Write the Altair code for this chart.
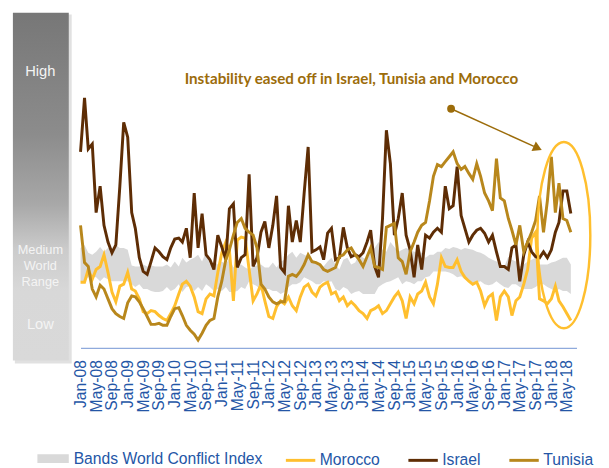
import altair as alt
import pandas as pd

# ---------------- data (arbitrary index units) ----------------
months = pd.date_range("2008-01-01", periods=126, freq="MS")
month_str = months.strftime("%Y-%m-%dT00:00:00").tolist()

morocco = [67, 67, 80, 70, 80, 83, 95, 77, 57, 47, 63, 65, 77, 60, 58, 50, 37, 35, 38, 37, 33, 30,
           28, 35, 43, 55, 65, 68, 63, 52, 37, 35, 50, 55, 53, 77, 97, 108, 100, 48, 110, 113, 112,
           80, 48, 55, 65, 48, 32, 30, 42, 48, 45, 52, 43, 38, 52, 62, 65, 57, 53, 62, 65,
           67, 55, 57, 48, 52, 43, 47, 43, 38, 35, 30, 38, 40, 43, 35, 38, 45, 52, 57, 48, 30,
           52, 45, 55, 58, 67, 52, 45, 65, 92, 83, 82, 82, 90, 78, 72, 68, 65, 67, 58, 43,
           52, 55, 28, 52, 58, 52, 33, 48, 52, 65, 80, 112, 118, 50, 48, 45, 50, 63, 48, 42, 35, 28]

israel = [200, 255, 203, 208, 138, 165, 125, 108, 97, 105, 165, 230, 215, 138, 122, 92, 78, 75, 88, 102, 98, 93,
          90, 102, 111, 112, 108, 122, 92, 158, 102, 137, 95, 90, 80, 115, 103, 90, 142, 147, 82, 92, 95,
          177, 83, 92, 118, 129, 102, 125, 155, 82, 77, 145, 108, 130, 108, 158, 205, 98, 100, 103, 90,
          117, 122, 90, 92, 123, 102, 93, 95, 93, 97, 108, 120, 83, 72, 132, 222, 188, 115, 132, 158, 115,
          100, 72, 105, 80, 115, 112, 118, 122, 118, 165, 142, 145, 185, 135, 122, 108, 115, 120, 122, 117,
          108, 115, 98, 83, 83, 80, 102, 105, 68, 95, 108, 98, 93, 92, 98, 92, 100, 118, 128, 160, 160, 137]

tunisia = [125, 87, 83, 60, 52, 64, 60, 50, 40, 35, 32, 30, 46, 53, 52, 47, 40, 32, 24, 24, 25, 23,
           23, 32, 40, 41, 33, 23, 18, 14, 8, 15, 23, 28, 30, 52, 68, 90, 100, 115, 128, 132, 122,
           118, 115, 102, 65, 60, 52, 47, 45, 47, 47, 73, 75, 73, 78, 85, 95, 88, 87, 85, 80,
           78, 80, 82, 93, 95, 100, 102, 95, 90, 83, 93, 102, 83, 82, 80, 123, 125, 127, 92, 88, 75,
           98, 108, 118, 125, 128, 150, 175, 187, 185, 190, 195, 200, 188, 182, 185, 178, 172, 188, 175, 158,
           150, 140, 193, 153, 150, 132, 120, 105, 125, 98, 108, 118, 130, 155, 118, 150, 195, 138, 168, 132, 130, 118]

band_low = [68, 68, 72, 73, 72, 68, 72, 70, 68, 68, 68, 68, 68, 65, 62, 65, 60, 60, 58, 57, 57, 58,
            62, 58, 60, 65, 57, 62, 63, 58, 62, 58, 65, 62, 58, 60, 58, 62, 57, 57, 58, 62, 60,
            68, 65, 63, 58, 60, 60, 58, 58, 55, 57, 62, 65, 65, 67, 72, 70, 68, 65, 65, 68,
            67, 68, 60, 58, 62, 60, 55, 57, 58, 55, 55, 55, 55, 62, 65, 67, 68, 70, 72, 65, 68,
            67, 65, 68, 68, 72, 73, 78, 78, 78, 78, 77, 75, 72, 73, 70, 68, 67, 67, 68, 65,
            64, 65, 68, 65, 62, 61, 65, 65, 62, 60, 60, 60, 62, 65, 65, 62, 60, 58, 60, 58, 58, 55]

band_high = [102, 105, 97, 95, 98, 103, 98, 102, 102, 105, 102, 102, 100, 84, 83, 83, 85, 83, 84, 83, 83, 83,
             85, 82, 88, 83, 92, 87, 90, 92, 95, 88, 98, 85, 88, 85, 88, 85, 92, 82, 85, 85, 82,
             80, 83, 84, 85, 82, 82, 87, 82, 88, 90, 95, 98, 92, 97, 95, 93, 90, 88, 85, 83,
             88, 92, 85, 80, 90, 92, 85, 87, 95, 92, 90, 98, 102, 108, 100, 98, 108, 103, 98, 100, 102,
             100, 98, 98, 97, 92, 95, 95, 98, 98, 102, 101, 103, 102, 100, 102, 101, 100, 98, 97, 95,
             92, 90, 88, 85, 83, 93, 90, 88, 83, 85, 88, 90, 92, 85, 85, 85, 87, 88, 90, 92, 92, 85]

series_names = ["Morocco", "Israel", "Tunisia"]
series_colors = ["#FFBF2E", "#5E2D05", "#B8871C"]
band_label = "Bands World Conflict Index"
band_color = "#D9D9D9"
note_text = "Instability eased off in Israel, Tunisia and Morocco"
note_color = "#9C6C0A"
blue = "#2456A6"

# ---------------- tables ----------------
lines_df = pd.DataFrame({
    "date": month_str * 3,
    "series": [s for s in series_names for _ in month_str],
    "value": morocco + israel + tunisia,
})
band_df = pd.DataFrame({"date": month_str, "low": band_low, "high": band_high, "label": band_label})
one = pd.DataFrame({"k": [0]})

tick_values = [alt.DateTime(year=d.year, month=d.month, date=1) for d in months[::4]]

x_scale = alt.Scale(domain=[alt.DateTime(year=2008, month=1, date=1),
                            alt.DateTime(year=2018, month=7, date=15)], nice=False)
y_scale = alt.Scale(domain=[0, 310], nice=False, zero=False)

x_axis = alt.Axis(values=tick_values, format="%b-%y", labelAngle=-90, labelPadding=12,
                  labelOverlap=False, labelFlush=False, ticks=False, grid=False, title=None,
                  domainColor="#8FAADC", domainWidth=1.2,
                  labelFont="Liberation Sans", labelFontSize=16, labelColor=blue)

band = alt.Chart(band_df).mark_area(opacity=1, interpolate="linear").encode(
    x=alt.X("date:T", scale=x_scale, axis=x_axis),
    y=alt.Y("low:Q", scale=y_scale, axis=None),
    y2="high:Q",
    fill=alt.Fill("label:N", scale=alt.Scale(domain=[band_label], range=[band_color]),
                  legend=alt.Legend(title=None, orient="none", legendX=-44, legendY=407,
                                    symbolType="M-1,-0.28H1V0.28H-1Z", symbolSize=1024,
                                    symbolStrokeWidth=0, labelOffset=5, labelLimit=400,
                                    labelFont="Liberation Sans", labelFontSize=16, labelColor=blue)),
)

stroke_enc = alt.Stroke(
    "series:N", scale=alt.Scale(domain=series_names, range=series_colors),
    legend=alt.Legend(title=None, orient="none", legendX=208, legendY=408, direction="horizontal",
                      symbolType="stroke", symbolSize=900, symbolStrokeWidth=3, columnPadding=22,
                      labelOffset=3, labelLimit=200, labelFont="Liberation Sans", labelFontSize=16,
                      labelColor=blue),
)

line_layers = [
    alt.Chart(lines_df).transform_filter(alt.datum.series == s).mark_line(strokeWidth=3).encode(
        x=alt.X("date:T", scale=x_scale, axis=x_axis),
        y=alt.Y("value:Q", scale=y_scale, axis=None), stroke=stroke_enc)
    for s in series_names
]

# ---------- left gradient scale bar ----------
grad = alt.LinearGradient(
    gradient="linear", x1=0, x2=0, y1=0, y2=1,
    stops=[alt.GradientStop(color="#777777", offset=0),
           alt.GradientStop(color="#8c8c8c", offset=0.35),
           alt.GradientStop(color="#a8a8a8", offset=0.55),
           alt.GradientStop(color="#cbcbcb", offset=0.68),
           alt.GradientStop(color="#d8d8d8", offset=0.8),
           alt.GradientStop(color="#d9d9d9", offset=1)],
)
shadow = alt.Chart(one).mark_rect(color="#c4c4c4", opacity=0.5).encode(
    x=alt.value(-67), x2=alt.value(-9), y=alt.value(-30), y2=alt.value(326))
bar = alt.Chart(one).mark_rect(color=grad).encode(
    x=alt.value(-69), x2=alt.value(-12), y=alt.value(-32), y2=alt.value(323))


def bar_text(txt, yv, size):
    return alt.Chart(one).mark_text(text=txt, font="Liberation Sans", fontSize=size,
                                    color="#F4F4F4", align="center", baseline="middle").encode(
        x=alt.value(-41), y=alt.value(yv))


bar_texts = [bar_text("High", 28, 15), bar_text("Medium", 210, 13), bar_text("World", 227, 13),
             bar_text("Range", 243, 13), bar_text("Low", 286, 15)]


# ---------- annotation ----------
def xd(y, m, d):
    return alt.XDatum(alt.DateTime(year=y, month=m, date=d), type="temporal", scale=x_scale, axis=x_axis)


def x2d(y, m, d):
    return alt.X2Datum(alt.DateTime(year=y, month=m, date=d))


def yd(v):
    return alt.YDatum(v, type="quantitative", scale=y_scale, axis=None)


note = alt.Chart(one).mark_text(text=note_text, font="Lato", fontWeight="bold", fontSize=15.5,
                                color=note_color, align="center", baseline="middle").encode(
    x=xd(2013, 10, 3), y=yd(274))
arrow_line = alt.Chart(one).mark_rule(color=note_color, strokeWidth=1.5).encode(
    x=xd(2015, 11, 15), y=yd(244), x2=x2d(2017, 8, 19), y2=alt.Y2Datum(205.5))
arrow_dot = alt.Chart(one).mark_point(shape="circle", filled=True, size=64, color=note_color,
                                      opacity=1).encode(x=xd(2015, 11, 15), y=yd(244))
arrow_head = alt.Chart(one).mark_point(shape="triangle-right", filled=True, size=110, angle=24.7,
                                       color=note_color, opacity=1).encode(
    x=xd(2017, 9, 17), y=yd(203.8))
ellipse = alt.Chart(one).mark_point(
    shape="M0,-1A0.284,1 0 1,1 0,1A0.284,1 0 1,1 0,-1Z", size=36100, filled=False,
    stroke="#FFBF2E", strokeWidth=2.5, opacity=1).encode(x=xd(2018, 4, 8), y=yd(115))

chart = alt.layer(
    shadow, bar, *bar_texts, band, *line_layers, note, arrow_line, arrow_dot, arrow_head, ellipse
).properties(
    width=506, height=310, padding={"left": 5, "top": 0, "right": 5, "bottom": 5},
    background="white",
).configure_view(stroke=None).configure_axis(labelOverlap=False)

chart.save("out.html", embed_options={"renderer": "svg", "actions": False})
